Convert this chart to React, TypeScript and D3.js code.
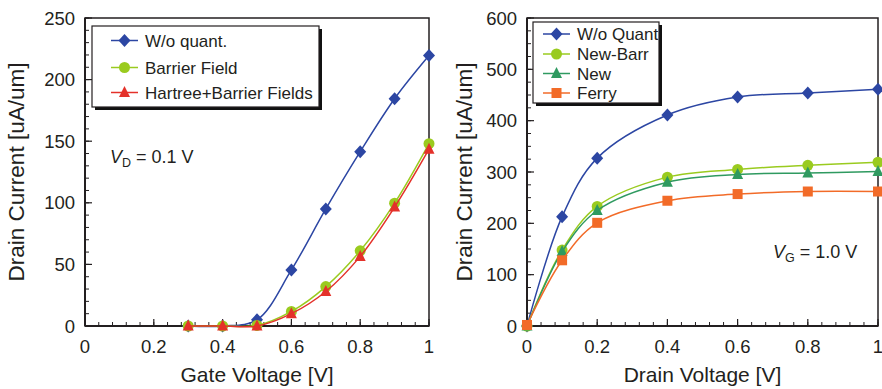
import React from "react";
import * as d3 from "d3";

// Left panel: drain current vs gate voltage at VD = 0.1 V
const gateVoltage = [0.3, 0.4, 0.5, 0.6, 0.7, 0.8, 0.9, 1.0];
const woQuantGate = [0, 0, 5, 45.5, 95, 141.5, 184.5, 219.5];
const barrierField = [0, 0, 0.5, 11.8, 32, 61, 99.7, 148];
const hartreeBarrier = [0, 0, 0, 10, 28, 56.5, 96.5, 143.5];

// Right panel: drain current vs drain voltage at VG = 1.0 V
const drainVoltage = [0, 0.1, 0.2, 0.4, 0.6, 0.8, 1.0];
const woQuantDrain = [0, 213, 327, 411, 446, 454, 461];
const newBarr = [0, 148, 233, 290, 305, 313, 319];
const newModel = [0, 145, 225, 280, 295, 298, 301];
const ferry = [2, 128, 201, 244, 257, 262, 262];

const xTicks = [0, 0.2, 0.4, 0.6, 0.8, 1];
const xTickLabels = ["0", "0.2", "0.4", "0.6", "0.8", "1"];
const leftYTicks = [0, 50, 100, 150, 200, 250];
const rightYTicks = [0, 100, 200, 300, 400, 500, 600];

const BLUE = "#2c46a3";
const LIME = "#9acb1f";
const RED = "#e4312a";
const TEAL = "#2f9a60";
const ORANGE = "#f26b28";
const INK = "#231f20";
const FONT = "'Liberation Sans', Arial, Helvetica, sans-serif";

type Shape = "diamond" | "circle" | "triangle" | "square";

function Marker({ shape, x, y, color }: { shape: Shape; x: number; y: number; color: string }) {
  if (shape === "circle") return <circle cx={x} cy={y} r={5.5} fill={color} />;
  if (shape === "square") return <rect x={x - 5} y={y - 5} width={10} height={10} fill={color} />;
  if (shape === "triangle")
    return <path d={`M${x},${y - 6.5}L${x + 5.5},${y + 4.5}L${x - 5.5},${y + 4.5}Z`} fill={color} />;
  return <path d={`M${x},${y - 6.5}L${x + 6},${y}L${x},${y + 6.5}L${x - 6},${y}Z`} fill={color} />;
}

type Series = { name: string; values: number[]; color: string; shape: Shape };

function Panel({
  left, right, top, bottom, yMax, yTicks, yMinorStep, xs, series, xTitle, yTitleX,
  legend, note,
}: {
  left: number; right: number; top: number; bottom: number; yMax: number; yTicks: number[];
  yMinorStep: number; xs: number[]; series: Series[]; xTitle: string; yTitleX: number;
  legend: { x: number; y: number; w: number; h: number; rowY: number[]; lineX: number; textX: number };
  note: { x: number; y: number; sub: string; rest: string };
}) {
  const x = d3.scaleLinear().domain([0, 1]).range([left, right]);
  const y = d3.scaleLinear().domain([0, yMax]).range([bottom, top]);
  const line = d3
    .line<number>()
    .x((_, i) => x(xs[i]))
    .y((v) => y(v))
    .curve(d3.curveCatmullRom.alpha(0.5));
  const xMinor = d3.range(0, 1.0001, 0.04);
  const yMinor = d3.range(0, yMax + 0.001, yMinorStep);
  return (
    <g>
      {/* minor and major ticks, pointing inward */}
      {xMinor.map((t, i) => (
        <line key={"xm" + i} x1={x(t)} x2={x(t)} y1={bottom} y2={bottom - 4} stroke={INK} strokeWidth={1} />
      ))}
      {xTicks.map((t, i) => (
        <line key={"xM" + i} x1={x(t)} x2={x(t)} y1={bottom} y2={bottom - 7} stroke={INK} strokeWidth={1.2} />
      ))}
      {yMinor.map((t, i) => (
        <line key={"ym" + i} x1={left} x2={left + 4} y1={y(t)} y2={y(t)} stroke={INK} strokeWidth={1} />
      ))}
      {yTicks.map((t, i) => (
        <line key={"yM" + i} x1={left} x2={left + 7} y1={y(t)} y2={y(t)} stroke={INK} strokeWidth={1.2} />
      ))}
      <rect x={left} y={top} width={right - left} height={bottom - top} fill="none" stroke={INK} strokeWidth={1.5} />
      <line x1={left} x2={left} y1={top} y2={bottom} stroke={INK} strokeWidth={2} />
      <line x1={left} x2={right} y1={bottom} y2={bottom} stroke={INK} strokeWidth={2} />

      {/* tick labels */}
      {xTicks.map((t, i) => (
        <text key={"xl" + i} x={x(t)} y={bottom + 27} textAnchor="middle" fontSize={18.5} fill={INK}>
          {xTickLabels[i]}
        </text>
      ))}
      {yTicks.map((t, i) => (
        <text key={"yl" + i} x={left - 10} y={y(t) + 6.5} textAnchor="end" fontSize={18.5} fill={INK}>
          {String(t)}
        </text>
      ))}
      <text x={(left + right) / 2} y={bottom + 56} textAnchor="middle" fontSize={21} fill={INK}>
        {xTitle}
      </text>
      <text
        transform={`translate(${yTitleX},${(top + bottom) / 2}) rotate(-90)`}
        textAnchor="middle"
        fontSize={22.5}
        fill={INK}
        dy={8}
      >
        Drain Current [uA/um]
      </text>

      {/* data */}
      {series.map((s) => (
        <g key={s.name}>
          <path d={line(s.values) ?? ""} fill="none" stroke={s.color} strokeWidth={1.5} />
          {s.values.map((v, i) => (
            <Marker key={i} shape={s.shape} x={x(xs[i])} y={y(v)} color={s.color} />
          ))}
        </g>
      ))}

      {/* condition label */}
      <text x={note.x} y={note.y} fontSize={18} fill={INK}>
        <tspan fontStyle="italic">V</tspan>
        <tspan fontSize={12.5} dy={4}>{note.sub}</tspan>
        <tspan dy={-4}>{note.rest}</tspan>
      </text>

      {/* legend */}
      <rect x={legend.x + 3} y={legend.y + 3} width={legend.w} height={legend.h} fill="#111" />
      <rect x={legend.x} y={legend.y} width={legend.w} height={legend.h} fill="#fff" stroke={INK} strokeWidth={1.2} />
      {series.map((s, i) => (
        <g key={"lg" + s.name}>
          <line
            x1={legend.lineX}
            x2={legend.lineX + 27}
            y1={legend.rowY[i]}
            y2={legend.rowY[i]}
            stroke={s.color}
            strokeWidth={1.5}
          />
          <Marker shape={s.shape} x={legend.lineX + 13.5} y={legend.rowY[i]} color={s.color} />
          <text x={legend.textX} y={legend.rowY[i] + 6} fontSize={17} fill={INK}>
            {s.name}
          </text>
        </g>
      ))}
    </g>
  );
}

export default function App() {
  const leftSeries: Series[] = [
    { name: "W/o quant.", values: woQuantGate, color: BLUE, shape: "diamond" },
    { name: "Barrier Field", values: barrierField, color: LIME, shape: "circle" },
    { name: "Hartree+Barrier Fields", values: hartreeBarrier, color: RED, shape: "triangle" },
  ];
  const rightSeries: Series[] = [
    { name: "W/o Quant", values: woQuantDrain, color: BLUE, shape: "diamond" },
    { name: "New-Barr", values: newBarr, color: LIME, shape: "circle" },
    { name: "New", values: newModel, color: TEAL, shape: "triangle" },
    { name: "Ferry", values: ferry, color: ORANGE, shape: "square" },
  ];
  return (
    <svg
      width={882}
      height={389}
      style={{ position: "absolute", left: 0, top: 0, background: "#fff", fontFamily: FONT }}
    >
      <rect width={882} height={389} fill="#fff" />
      <Panel
        left={85}
        right={429}
        top={18}
        bottom={326}
        yMax={250}
        yTicks={leftYTicks}
        yMinorStep={10}
        xs={gateVoltage}
        series={leftSeries}
        xTitle="Gate Voltage [V]"
        yTitleX={16}
        legend={{ x: 92, y: 26, w: 227, h: 81, rowY: [40.5, 67.5, 92.5], lineX: 111, textX: 145 }}
        note={{ x: 110, y: 163, sub: "D", rest: " = 0.1 V" }}
      />
      <Panel
        left={527}
        right={878}
        top={18}
        bottom={326}
        yMax={600}
        yTicks={rightYTicks}
        yMinorStep={25}
        xs={drainVoltage}
        series={rightSeries}
        xTitle="Drain Voltage [V]"
        yTitleX={464}
        legend={{ x: 533, y: 22, w: 126, h: 81, rowY: [34, 54, 73.5, 93], lineX: 543, textX: 577 }}
        note={{ x: 773, y: 258, sub: "G", rest: " = 1.0 V" }}
      />
    </svg>
  );
}
